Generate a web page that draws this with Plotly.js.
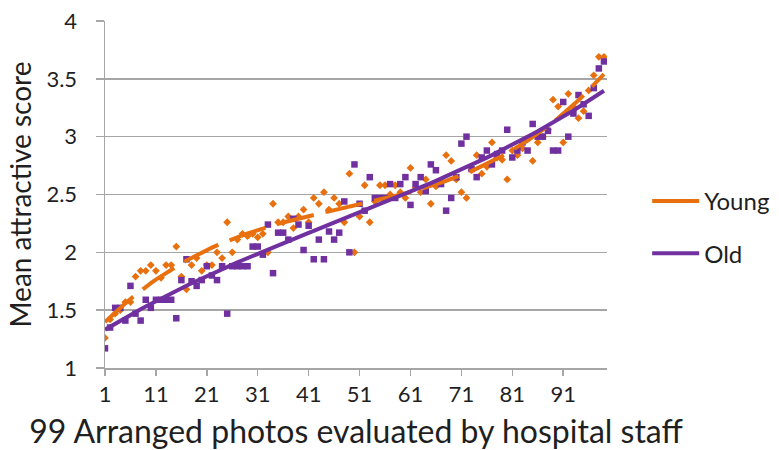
<!DOCTYPE html>
<html>
<head>
<meta charset="utf-8">
<script src="https://cdn.plot.ly/plotly-3.0.1.min.js"></script>
<style>html,body{margin:0;padding:0;background:#fff;}#chart{width:779px;height:450px;}</style>
</head>
<body>
<div id="chart"></div>
<script>
// Photo index 1..99
const photoIndex = Array.from({length: 99}, (_, i) => i + 1);

// Mean attractive score given by young staff
const youngScores = [
  1.26, 1.42, 1.47, 1.50, 1.57, 1.57, 1.79, 1.84, 1.84, 1.89,
  1.84, 1.78, 1.89, 1.89, 2.05, 1.79, 1.68, 1.89, 1.95, 1.84,
  1.89, 1.89, 2.00, 1.95, 2.26, 2.00, 2.11, 2.16, 2.14, 2.16,
  2.13, 2.16, 2.00, 2.42, 2.26, 2.26, 2.31, 2.21, 2.31, 2.37,
  2.26, 2.47, 2.42, 2.52, 2.37, 2.47, 2.42, 2.26, 2.68, 2.00,
  2.31, 2.58, 2.26, 2.44, 2.58, 2.58, 2.50, 2.58, 2.52, 2.47,
  2.73, 2.56, 2.52, 2.63, 2.42, 2.57, 2.62, 2.84, 2.79, 2.63,
  2.52, 2.47, 2.71, 2.84, 2.68, 2.74, 2.95, 2.82, 2.80, 2.63,
  2.88, 2.84, 2.90, 2.98, 2.79, 2.95, 3.00, 3.06, 3.32, 3.26,
  2.95, 3.37, 3.26, 3.16, 3.22, 3.40, 3.53, 3.69, 3.69
];

// Mean attractive score given by old staff
const oldScores = [
  1.17, 1.35, 1.52, 1.52, 1.41, 1.71, 1.47, 1.41, 1.59, 1.52,
  1.59, 1.59, 1.59, 1.59, 1.43, 1.76, 1.94, 1.75, 1.71, 1.76,
  1.88, 1.80, 1.76, 1.88, 1.47, 1.88, 1.88, 1.88, 1.88, 2.05,
  2.05, 1.98, 2.24, 1.82, 2.17, 2.17, 2.11, 2.29, 2.24, 2.02,
  2.23, 1.94, 2.11, 1.94, 2.18, 2.11, 2.17, 2.44, 2.00, 2.76,
  2.42, 2.36, 2.65, 2.47, 2.47, 2.47, 2.59, 2.47, 2.59, 2.65,
  2.41, 2.59, 2.65, 2.53, 2.76, 2.71, 2.59, 2.36, 2.47, 2.65,
  2.94, 3.00, 2.72, 2.65, 2.82, 2.88, 2.76, 2.85, 2.88, 3.06,
  2.82, 2.88, 2.95, 2.88, 3.11, 3.00, 3.00, 3.05, 2.88, 2.88,
  3.30, 3.00, 3.20, 3.36, 3.28, 3.18, 3.42, 3.59, 3.65
];

const seriesNames = ["Young", "Old"];
const xTickVals = [1, 11, 21, 31, 41, 51, 61, 71, 81, 91];
const yTickVals = [1, 1.5, 2, 2.5, 3, 3.5, 4];

// Least-squares polynomial trendline (like a spreadsheet polynomial trendline)
function polyFit(xs, ys, order) {
  const c = 50, s = 50;
  const n = order + 1;
  const A = Array.from({length: n}, () => new Array(n + 1).fill(0));
  for (let k = 0; k < xs.length; k++) {
    const t = (xs[k] - c) / s;
    const p = [];
    for (let i = 0; i < n; i++) p.push(Math.pow(t, i));
    for (let i = 0; i < n; i++) {
      for (let j = 0; j < n; j++) A[i][j] += p[i] * p[j];
      A[i][n] += p[i] * ys[k];
    }
  }
  for (let i = 0; i < n; i++) {
    let m = i;
    for (let r = i + 1; r < n; r++) if (Math.abs(A[r][i]) > Math.abs(A[m][i])) m = r;
    [A[i], A[m]] = [A[m], A[i]];
    for (let r = 0; r < n; r++) {
      if (r === i) continue;
      const f = A[r][i] / A[i][i];
      for (let j = i; j <= n; j++) A[r][j] -= f * A[i][j];
    }
  }
  const coef = A.map((row, i) => row[n] / row[i]);
  return xs.map(x => {
    const t = (x - c) / s;
    return coef.reduce((acc, a, i) => acc + a * Math.pow(t, i), 0);
  });
}

const orange = "#E8700E";
const purple = "#7030A0";

const youngTrend = polyFit(photoIndex, youngScores, 3);
const oldTrend = polyFit(photoIndex, oldScores, 3);

const traces = [
  {x: photoIndex, y: youngScores, mode: "markers", type: "scatter", showlegend: false,
   marker: {symbol: "diamond", size: 6, color: orange}, hoverinfo: "skip"},
  {x: photoIndex, y: oldScores, mode: "markers", type: "scatter", showlegend: false,
   marker: {symbol: "square", size: 6.5, color: purple}, hoverinfo: "skip"},
  {x: photoIndex, y: youngTrend, mode: "lines", type: "scatter", showlegend: false,
   line: {color: orange, width: 4, dash: "38px,12px"}},
  {x: photoIndex, y: oldTrend, mode: "lines", type: "scatter", showlegend: false,
   line: {color: purple, width: 4}},
  // legend entries (no data of their own)
  {x: [null], y: [null], mode: "lines", type: "scatter", name: seriesNames[0],
   legendgroup: "g1", line: {color: orange, width: 4}},
  {x: [null], y: [null], mode: "lines", type: "scatter", name: seriesNames[1],
   legendgroup: "g2", line: {color: purple, width: 4}}
];

const fontFam = "Lato, 'Open Sans', sans-serif";
const textColor = "#1f1f1f";
const layout = {
  width: 779, height: 450,
  margin: {l: 105, r: 172, t: 21, b: 82, autoexpand: false},
  paper_bgcolor: "#fff", plot_bgcolor: "#fff",
  font: {family: fontFam, color: textColor, size: 22},
  showlegend: true,
  legend: {x: 1.08, xanchor: "left", y: 0.545, yanchor: "top",
           font: {family: fontFam, size: 24, color: textColor},
           traceorder: "grouped", tracegroupgap: 18, itemwidth: 47,
           bgcolor: "rgba(0,0,0,0)"},
  xaxis: {
    range: [1, 99.6], tickvals: xTickVals, ticktext: xTickVals.map(String),
    showgrid: false, zeroline: false, showline: true, linecolor: "#A6A6A6", linewidth: 1.5,
    ticks: "outside", ticklen: 6, tickcolor: "#A6A6A6", tickwidth: 1.5,
    tickfont: {family: fontFam, size: 22, color: textColor},
    title: {text: "99 Arranged photos evaluated by hospital staff", font: {family: fontFam, size: 32, color: textColor}, standoff: 25}
  },
  yaxis: {
    range: [1, 4], tickvals: yTickVals, ticktext: yTickVals.map(String),
    showgrid: true, gridcolor: "#A6A6A6", gridwidth: 1.5, zeroline: false,
    showline: true, linecolor: "#A6A6A6", linewidth: 1.5,
    ticks: "outside", ticklen: 8, tickcolor: "#A6A6A6", tickwidth: 1.5,
    ticklabelstandoff: 14,
    tickfont: {family: fontFam, size: 22, color: textColor},
    title: {text: "Mean attractive score", font: {family: fontFam, size: 28, color: textColor}, standoff: 6}
  }
};

Plotly.newPlot("chart", traces, layout, {displayModeBar: false, staticPlot: true});
</script>
</body>
</html>
